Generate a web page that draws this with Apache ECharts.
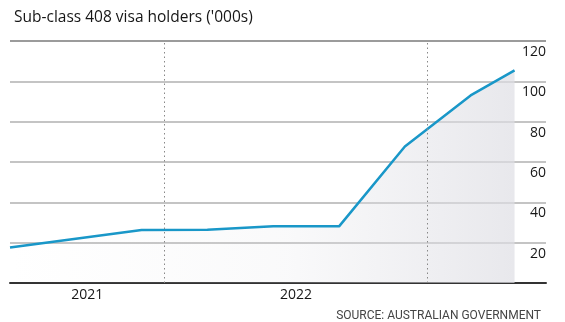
<!DOCTYPE html>
<html>
<head>
<meta charset="utf-8">
<script src="https://cdn.jsdelivr.net/npm/echarts@6/dist/echarts.min.js"></script>
<style>
html,body{margin:0;padding:0;background:#fff;}
#c{width:565px;height:322px;}
</style>
</head>
<body>
<div id="c"></div>
<script>
// Data (dates of observations and values in '000s)
var dates = ['2021-05-31','2021-11-30','2022-02-28','2022-05-31','2022-08-31','2022-11-30','2023-02-28','2023-04-30'];
var values = [17.6, 26.3, 26.4, 28.1, 28.1, 67.7, 93.0, 105.4];
var yearLabels = ['2021','2022'];
var yearBoundaries = ['2022-01-01','2023-01-01'];
var xRange = ['2021-05-31','2023-06-13'];

var titleText = "Sub-class 408 visa holders ('000s)";
var sourceText = 'SOURCE: AUSTRALIAN GOVERNMENT';

// convert a date to months since 2021-01-01
function m(s){
  var p = s.split('-').map(Number);
  var dim = new Date(Date.UTC(p[0], p[1], 0)).getUTCDate();
  return (p[0] - 2021) * 12 + (p[1] - 1) + (p[2] - 1) / dim;
}
var xMin = m(xRange[0]), xMax = m(xRange[1]);
var seriesData = dates.map(function(d, i){ return [m(d), values[i]]; });
// centre each year label in the visible part of its year
var labelPositions = yearLabels.map(function(y){
  var s = Math.max((Number(y) - 2021) * 12, xMin);
  var e = Math.min((Number(y) - 2020) * 12, xMax);
  return (s + e) / 2;
});

var chart = echarts.init(document.getElementById('c'), null, {renderer:'canvas'});
chart.setOption({
  animation: false,
  backgroundColor: '#fff',
  textStyle: {fontFamily: 'Open Sans'},
  title: [{
    text: titleText,
    left: 9, top: 5,
    textStyle: {fontFamily: 'Open Sans', fontSize: 15.5, fontWeight: 'normal', color: '#161616'}
  },{
    text: sourceText,
    right: 19, top: 305,
    textStyle: {fontFamily: 'Roboto', fontSize: 12, fontWeight: 'normal', color: '#444'}
  }],
  grid: {left: 10, right: 19, top: 41, bottom: 39},
  xAxis: {
    type: 'value',
    min: xMin,
    max: xMax,
    axisLine: {show: true, onZero: false, lineStyle: {color: '#333', width: 2}},
    axisTick: {show: false},
    splitLine: {show: false},
    axisLabel: {
      customValues: labelPositions,
      formatter: function(v){ return String(2021 + Math.floor(v / 12)); },
      fontFamily: 'Open Sans', fontSize: 14, color: '#161616', margin: 5,
      showMinLabel: true, showMaxLabel: true
    }
  },
  yAxis: {
    type: 'value',
    position: 'right',
    min: 0, max: 120, interval: 20,
    axisLine: {show: false},
    axisTick: {show: false},
    splitLine: {show: true, lineStyle: {color: ['#333','#b0b0b0','#b0b0b0','#b0b0b0','#b0b0b0','#b0b0b0','#7a7a7a'], width: 1.5}},
    axisLabel: {
      inside: true,
      margin: 0,
      verticalAlign: 'top',
      padding: [4, 0, 0, 0],
      fontFamily: 'Open Sans', fontSize: 14, color: '#161616',
      formatter: function(v){ return v === 0 ? '' : String(v); }
    }
  },
  series: [{
    type: 'line',
    data: seriesData,
    symbol: 'none',
    lineStyle: {color: '#1997c8', width: 2.5},
    itemStyle: {color: '#1997c8'},
    areaStyle: {
      color: new echarts.graphic.LinearGradient(0, 0, 1, 0, [
        {offset: 0, color: 'rgba(225,225,230,0)'},
        {offset: 0.55, color: 'rgba(225,225,230,0.25)'},
        {offset: 1, color: 'rgba(222,222,228,1)'}
      ]),
      origin: 'start'
    },
    markLine: {
      silent: true,
      symbol: ['none','none'],
      label: {show: false},
      lineStyle: {color: '#888', type: [1.5, 3], width: 1},
      data: yearBoundaries.map(function(d){ return {xAxis: m(d)}; })
    },
    z: 3
  }]
});
</script>
</body>
</html>
